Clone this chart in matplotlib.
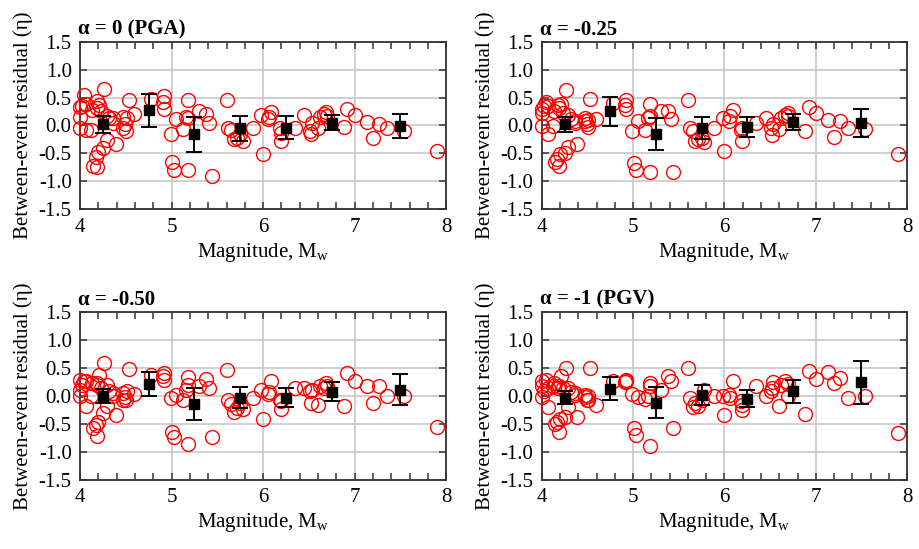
import numpy as np
import matplotlib
matplotlib.use("Agg")
import matplotlib.pyplot as plt
from matplotlib.ticker import MultipleLocator, FormatStrFormatter

plt.rcParams['font.family'] = ['Liberation Serif', 'DejaVu Serif']
plt.rcParams['mathtext.fontset'] = 'custom'
plt.rcParams['mathtext.rm'] = 'Liberation Serif'
plt.rcParams['axes.unicode_minus'] = False

# event magnitudes (same events in every panel)
mag = [4.00, 4.02, 4.04, 4.07, 4.00, 4.00, 4.07, 4.12, 4.13, 4.18,
       4.19, 4.21, 4.23, 4.26, 4.29, 4.32, 4.36, 4.36, 4.29, 4.25,
       4.20, 4.17, 4.14, 4.19, 4.39, 4.47, 4.49, 4.47, 4.50, 4.53,
       4.59, 4.51, 4.78, 4.92, 4.91, 4.92, 4.99, 5.05, 5.01, 5.03,
       5.13, 5.16, 5.18, 5.18, 5.18, 5.30, 5.38, 5.41, 5.44, 5.60,
       5.62, 5.65, 5.68, 5.71, 5.75, 5.78, 5.89, 5.98, 6.00, 6.05,
       6.06, 6.09, 6.18, 6.19, 6.19, 6.35, 6.45, 6.51, 6.52, 6.53,
       6.60, 6.62, 6.66, 6.69, 6.70, 6.88, 6.92, 7.00, 7.13, 7.20,
       7.27, 7.35, 7.54, 7.90]

eta_a0 = [0.33, 0.35, 0.54, 0.38, 0.15, -0.04, -0.09, -0.09, 0.27, 0.44,
          0.32, 0.36, 0.26, 0.65, 0.17, 0.14, 0.13, 0.05, -0.26, -0.41,
          -0.47, -0.57, -0.73, -0.74, -0.34, 0.15, 0.02, -0.05, -0.10, 0.45,
          0.20, 0.13, 0.47, 0.53, 0.42, 0.29, -0.16, 0.11, -0.65, -0.80,
          -0.07, 0.15, 0.45, 0.13, -0.79, 0.26, 0.20, 0.05, -0.91, 0.45,
          -0.05, -0.09, -0.25, -0.22, -0.16, -0.28, -0.05, 0.18, -0.52, 0.11,
          0.15, 0.24, -0.05, -0.13, -0.27, -0.05, 0.19, -0.10, -0.16, 0.05,
          -0.04, 0.15, 0.20, 0.24, 0.17, -0.03, 0.29, 0.18, 0.06, -0.22,
          0.02, -0.05, -0.10, -0.45]

eta_a025 = [0.29, 0.35, 0.42, 0.35, 0.23, -0.01, -0.16, -0.01, 0.26, 0.36,
            0.32, 0.38, 0.23, 0.63, 0.19, 0.11, 0.08, 0.05, -0.39, -0.49,
            -0.52, -0.61, -0.65, -0.73, -0.34, 0.13, 0.02, 0.08, -0.02, 0.48,
            0.11, 0.10, 0.41, 0.45, 0.36, 0.29, -0.10, 0.08, -0.67, -0.79,
            -0.09, 0.14, 0.39, 0.17, -0.83, 0.26, 0.26, 0.11, -0.84, 0.45,
            -0.05, -0.10, -0.28, -0.25, -0.23, -0.29, -0.05, 0.14, -0.46, 0.08,
            0.17, 0.27, -0.09, -0.05, -0.27, 0.05, 0.14, -0.05, -0.17, 0.02,
            -0.07, 0.14, 0.19, 0.23, 0.17, -0.10, 0.33, 0.23, 0.09, -0.21,
            0.08, -0.04, -0.07, -0.52]

eta_a050 = [0.29, 0.20, 0.26, 0.26, 0.11, 0.00, -0.18, 0.00, 0.23, 0.23,
            0.20, 0.38, 0.14, 0.58, 0.20, 0.08, 0.00, 0.05, -0.19, -0.31,
            -0.46, -0.52, -0.58, -0.71, -0.34, 0.05, -0.02, -0.07, -0.07, 0.48,
            0.04, 0.08, 0.38, 0.40, 0.35, 0.29, -0.04, 0.02, -0.65, -0.74,
            -0.07, 0.11, 0.33, 0.20, -0.86, 0.17, 0.30, 0.14, -0.74, 0.46,
            -0.07, -0.14, -0.28, -0.22, -0.13, -0.24, -0.04, 0.11, -0.42, 0.04,
            0.06, 0.27, -0.07, -0.10, -0.24, 0.14, 0.14, 0.08, -0.12, 0.11,
            -0.16, 0.17, 0.14, 0.23, 0.17, -0.18, 0.40, 0.27, 0.18, -0.12,
            0.18, -0.01, 0.00, -0.55]

eta_a1 = [0.26, 0.08, 0.29, 0.14, 0.17, -0.02, -0.20, 0.17, 0.23, 0.14,
          0.17, 0.35, 0.14, 0.49, 0.14, 0.06, 0.05, 0.02, -0.20, -0.38,
          -0.42, -0.46, -0.50, -0.65, -0.37, -0.02, -0.07, 0.02, -0.07, 0.49,
          -0.16, 0.00, 0.26, 0.29, 0.24, 0.27, 0.04, -0.02, -0.58, -0.70,
          -0.06, 0.00, 0.23, 0.17, -0.90, 0.11, 0.35, 0.27, -0.58, 0.49,
          -0.04, -0.20, -0.13, -0.18, -0.07, 0.11, -0.01, -0.01, -0.34, 0.02,
          -0.04, 0.27, -0.10, -0.17, -0.25, 0.18, 0.00, 0.08, 0.14, 0.24,
          -0.18, 0.20, 0.26, -0.01, 0.22, -0.32, 0.45, 0.30, 0.42, 0.23,
          0.32, -0.03, -0.01, -0.67]

# binned means and standard deviations
bin_mag = [4.25, 4.75, 5.25, 5.75, 6.25, 6.75, 7.5]
mean_a0 = [0.02, 0.27, -0.16, -0.05, -0.04, 0.05, -0.01]
std_a0 = [0.15, 0.29, 0.31, 0.22, 0.21, 0.14, 0.22]
mean_a025 = [0.02, 0.25, -0.15, -0.04, -0.03, 0.06, 0.04]
std_a025 = [0.14, 0.26, 0.29, 0.20, 0.18, 0.15, 0.25]
mean_a050 = [0.00, 0.21, -0.15, -0.03, -0.03, 0.07, 0.11]
std_a050 = [0.13, 0.22, 0.29, 0.18, 0.17, 0.17, 0.28]
mean_a1 = [-0.03, 0.13, -0.12, 0.02, -0.05, 0.08, 0.24]
std_a1 = [0.12, 0.20, 0.27, 0.18, 0.15, 0.21, 0.38]

titles = ['α = 0 (PGA)', 'α = -0.25', 'α = -0.50', 'α = -1 (PGV)']
etas = [eta_a0, eta_a025, eta_a050, eta_a1]
means = [mean_a0, mean_a025, mean_a050, mean_a1]
stds = [std_a0, std_a025, std_a050, std_a1]

fig = plt.figure(figsize=(9.2, 5.49), dpi=100)
boxes = [[0.087, 0.619, 0.398, 0.305], [0.589, 0.619, 0.397, 0.305],
         [0.087, 0.126, 0.398, 0.306], [0.589, 0.126, 0.397, 0.306]]

for i in range(4):
    ax = fig.add_axes(boxes[i])
    ax.plot(mag, etas[i], 'o', mfc='none', mec='red', ms=10, mew=1.0,
            clip_on=False, zorder=3)
    ax.errorbar(bin_mag, means[i], yerr=stds[i], fmt='s', color='black',
                ms=6.5, elinewidth=1.4, capsize=6, capthick=1.4, zorder=4)
    ax.set_xlim(4, 8)
    ax.set_ylim(-1.5, 1.5)
    ax.xaxis.set_major_locator(MultipleLocator(1))
    ax.xaxis.set_minor_locator(MultipleLocator(0.2))
    ax.yaxis.set_major_locator(MultipleLocator(0.5))
    ax.yaxis.set_major_formatter(FormatStrFormatter('%.1f'))
    ax.grid(True, which='major', color='#c8c8c8', lw=1.2, zorder=0)
    ax.set_axisbelow(True)
    ax.tick_params(which='both', direction='in', top=True, right=True,
                   labelsize=15, width=1.1, color='#333333')
    ax.tick_params(which='major', length=5, pad=6)
    ax.tick_params(which='minor', length=5)
    for sp in ax.spines.values():
        sp.set_linewidth(1.3)
        sp.set_color('#333333')
    ax.set_xlabel('Magnitude, M$_\\mathrm{w}$', fontsize=15, labelpad=3)
    ax.set_ylabel('Between-event residual (η)', fontsize=15, labelpad=4)
    ax.set_title(titles[i], loc='left', fontsize=15, fontweight='bold',
                 pad=5, x=-0.005)

fig.savefig('out.png', dpi=100)
